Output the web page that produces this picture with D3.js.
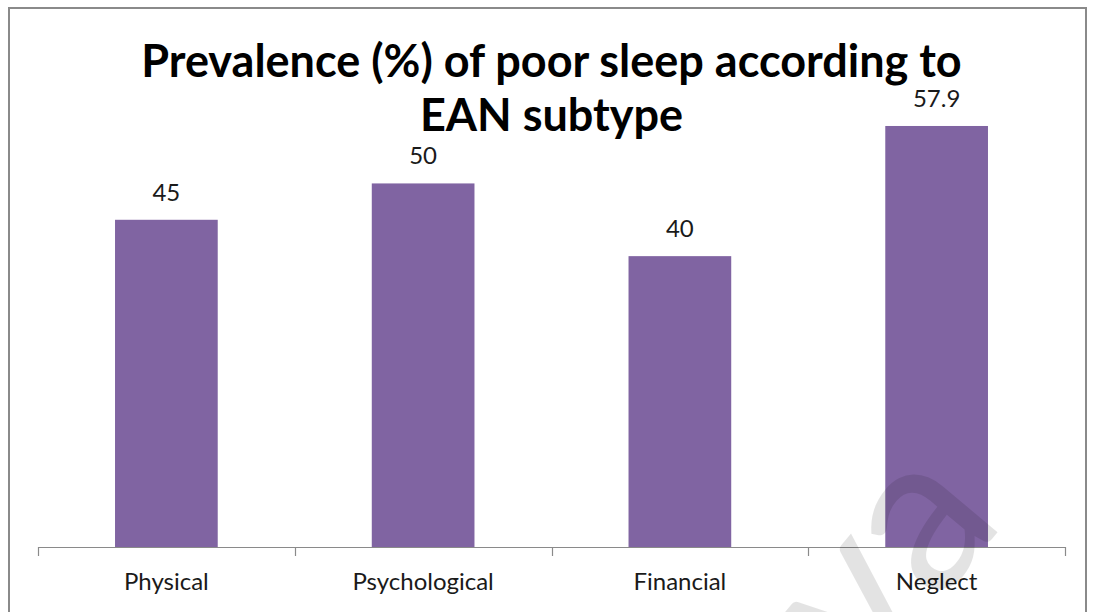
<!DOCTYPE html>
<html>
<head>
<meta charset="utf-8">
<script src="https://cdn.jsdelivr.net/npm/d3@7"></script>
<style>
  html, body { margin: 0; padding: 0; background: #fff; }
  svg { display: block; }
</style>
</head>
<body>
<svg id="chart" width="1093" height="612"></svg>
<script>
// Prevalence of poor sleep by EAN subtype
const categories = ["Physical", "Psychological", "Financial", "Neglect"];
const prevalence = [45, 50, 40, 57.9];
const titleLines = ["Prevalence (%) of poor sleep according to", "EAN subtype"];

const plot = { left: 38, right: 1065, top: 38, bottom: 547 };
const font = "Lato, 'Open Sans', sans-serif";

const svg = d3.select("#chart");

// outer frame (open at the bottom edge of the view)
svg.append("rect")
  .attr("x", 9).attr("y", 8)
  .attr("width", 1077).attr("height", 640)
  .attr("fill", "#fff")
  .attr("stroke", "#8a8a8a")
  .attr("stroke-width", 2);

const x = d3.scaleBand()
  .domain(categories)
  .range([plot.left, plot.right])
  .paddingInner(0.6)
  .paddingOuter(0.3);

const y = d3.scaleLinear()
  .domain([0, 70])
  .range([plot.bottom, plot.top]);

// bars
svg.append("g").selectAll("rect")
  .data(categories)
  .join("rect")
  .attr("x", d => x(d))
  .attr("y", (d, i) => y(prevalence[i]))
  .attr("width", x.bandwidth())
  .attr("height", (d, i) => y(0) - y(prevalence[i]))
  .attr("fill", "#8064a2");

// value labels
svg.append("g").selectAll("text")
  .data(categories)
  .join("text")
  .attr("x", d => x(d) + x.bandwidth() / 2)
  .attr("y", (d, i) => y(prevalence[i]) - 19)
  .attr("text-anchor", "middle")
  .attr("font-family", font)
  .attr("font-size", 24)
  .attr("fill", "#1a1a1a")
  .text((d, i) => String(prevalence[i]));

// category axis: baseline with ticks between categories
const boundaries = d3.range(categories.length + 1)
  .map(i => plot.left + i * (plot.right - plot.left) / categories.length);
const axis = svg.append("g");
axis.append("line")
  .attr("x1", plot.left).attr("x2", plot.right)
  .attr("y1", plot.bottom + 0.5).attr("y2", plot.bottom + 0.5)
  .attr("stroke", "#8a8a8a").attr("stroke-width", 1.2);
axis.selectAll("line.tick")
  .data(boundaries)
  .join("line")
  .attr("class", "tick")
  .attr("x1", d => Math.round(d) + 0.5).attr("x2", d => Math.round(d) + 0.5)
  .attr("y1", plot.bottom).attr("y2", plot.bottom + 9)
  .attr("stroke", "#8a8a8a").attr("stroke-width", 1.2);
axis.selectAll("text")
  .data(categories)
  .join("text")
  .attr("x", d => x(d) + x.bandwidth() / 2)
  .attr("y", 590)
  .attr("text-anchor", "middle")
  .attr("font-family", font)
  .attr("font-size", 24)
  .attr("fill", "#1a1a1a")
  .text(d => d);

// title
svg.append("text")
  .attr("text-anchor", "middle")
  .attr("font-family", font)
  .attr("font-weight", "bold")
  .attr("font-size", 45)
  .attr("fill", "#000")
  .selectAll("tspan")
  .data(titleLines)
  .join("tspan")
  .attr("x", (plot.left + plot.right) / 2)
  .attr("y", (d, i) => 77 + i * 54)
  .text(d => d);

// faint site mark in the lower right corner
svg.append("text")
  .attr("transform", "translate(865,690) rotate(-50)")
  .attr("font-family", font)
  .attr("font-size", 220)
  .attr("fill", "#000")
  .attr("fill-opacity", 0.11)
  .text("va");
</script>
</body>
</html>
